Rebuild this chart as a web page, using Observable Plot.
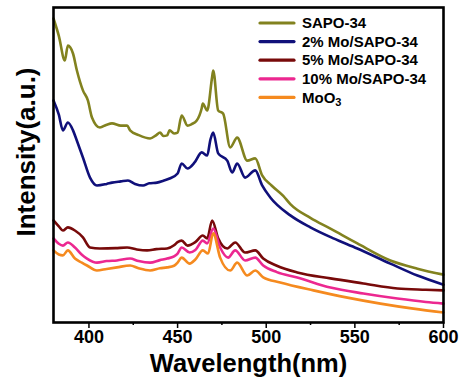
<!DOCTYPE html>
<html>
<head>
<meta charset="utf-8">
<script src="https://cdn.jsdelivr.net/npm/d3@7"></script>
<script src="https://cdn.jsdelivr.net/npm/@observablehq/plot@0.6"></script>
<style>
  html, body { margin: 0; padding: 0; background: #fff; }
  #chart { width: 461px; height: 380px; }
  svg { font-family: "Liberation Sans", Arial, sans-serif; }
</style>
</head>
<body>
<div id="chart"></div>
<script>
// ---- data (wavelength in nm, intensity in arbitrary units) ----
const seriesNames = ["SAPO-34", "2% Mo/SAPO-34", "5% Mo/SAPO-34", "10% Mo/SAPO-34", "MoO3"];
const seriesColors = ["#82821f", "#10107a", "#780a0a", "#ec2890", "#f58a1f"];

const wlSapo = [380,383,386.4,388.1,391,393.2,396.6,399.4,401.7,406.2,410,413,418,421.5,423.2,428,434.5,438,440.1,442,444.1,445.5,448,450,452.3,455.6,458,460.8,463.6,464.2,466.7,469.5,470.1,472.9,475.7,479.7,483.6,489.3,493.8,497.7,503,509.6,513.6,524.9,536.2,551.4,570,585.3,600];
const intSapo = [96.5,91,83.2,87.9,85.4,80.0,73.7,70.5,65.1,61.9,62.8,63.2,62.5,62.5,61.0,59.5,58.4,59.5,60.3,59.2,59.4,61.0,60.0,60.3,65.7,62.5,63.0,64.1,68.0,69.5,67.3,78,80.0,67.3,66.3,55.6,58.7,51.4,52.1,46.7,43.5,40.2,37.6,33.2,29.8,25.1,19.7,17.1,15.2];

const wl2Mo = [380,383,385.3,388.1,391,393,396.6,400.6,404.5,410,413,418,422,426,430.5,434,438.4,442,445.5,450,452.3,455.6,459.6,463.6,466.7,468.5,470.1,472.9,478,480.8,483.6,488.1,493.8,497.7,502.3,513.6,524.9,537.9,551.4,570,585.3,600];
const int2Mo = [70.5,66,61.0,63.5,61.0,58,52.4,46.0,43.5,44.0,44.4,44.8,45.1,44.0,43.5,44.2,44.4,45.0,45.7,47.3,50.5,48.9,50.8,54.0,53.0,58,60.3,53.7,51.4,47.6,50.5,46.0,48.3,43.5,39.7,34.0,30.2,26.7,23.5,18.7,14.9,12.0];

const wl5Mo = [380,383,385.3,388.1,392.1,396.6,400.6,406.2,415,421.5,427,432.8,438,444.1,448,450,452.3,455.6,460,464.2,466.7,469.5,472.9,478,482.5,488.1,493.8,498.3,506,517.5,536.2,554.8,574,590,600];
const int5Mo = [32.4,30.5,29.2,30.2,29.2,27.0,23.8,23.5,23.6,23.8,23.2,22.9,23.3,23.5,24.5,25.5,26.0,24.4,25.5,27.6,26.7,32.4,26.7,23.5,25.4,22.2,22.9,20.3,18.0,15.9,14.0,12.4,10.8,10.4,10.2];

const wl10Mo = [380,383,385.3,388.1,392.1,396,398.9,404.5,410,415.8,423.2,428,434.5,440,444.1,448,450,452.3,456.8,460,464.2,466.7,470.1,474,478.5,482.5,488.1,493.8,498.3,506,517.5,536.2,554.8,574,590,600];
const int10Mo = [26.7,25.0,24.4,25.4,23.8,21.5,20.3,19.0,19.5,19.7,20.3,19.5,19.0,19.8,20.3,21.0,21.9,23.8,22.2,23.0,26.0,25.1,29.8,23.8,20.6,22.9,19.7,20.6,18.1,16.0,14.3,11.1,9.2,7.6,6.5,6.0];

const wlMoO3 = [380,383,385.3,388.1,392.1,396,398.9,404.5,410,415.8,423.2,428,434.5,440,444.1,448,450,452.3,456.8,460,464.2,467.2,470.1,474,479.7,483.6,489.3,493.8,498.3,507.9,526.6,545.8,564.4,583,600];
const intMoO3 = [22.9,21.6,21.3,22.9,20.3,19.0,18.1,16.5,17.0,17.5,18.1,17.2,16.5,17.2,17.5,18.0,19.0,20.6,18.7,20.0,22.9,21.9,28.3,20.6,16.5,19.0,14.9,16.5,14.3,12.7,10.2,7.9,6.0,4.4,3.2];

const xMajorTicks = [400, 450, 500, 550, 600];
const xMinorTicks = [425, 475, 525, 575];
const xLabel = "Wavelength(nm)";
const yLabel = "Intensity(a.u.)";

// ---- build table ----
const wls = [wlSapo, wl2Mo, wl5Mo, wl10Mo, wlMoO3];
const ints = [intSapo, int2Mo, int5Mo, int10Mo, intMoO3];
const data = [];
seriesNames.forEach((name, i) => {
  wls[i].forEach((w, j) => data.push({series: name, wl: w, v: ints[i][j]}));
});

const plot = Plot.plot({
  width: 461,
  height: 380,
  marginLeft: 53,
  marginRight: 18,
  marginTop: 7,
  marginBottom: 58,
  style: {fontFamily: '"Liberation Sans", Arial, sans-serif', background: "#fff"},
  x: {domain: [380, 600]},
  y: {domain: [0, 100]},
  color: {domain: seriesNames, range: seriesColors},
  marks: [
    Plot.line(data, {x: "wl", y: "v", z: "series", stroke: "series", strokeWidth: 2.6, strokeLinejoin: "round", curve: "monotone-x"}),
    Plot.frame({stroke: "#000", strokeWidth: 2.6}),
    Plot.axisX({ticks: xMajorTicks, tickSize: 6, tickPadding: 2, tickFormat: d => String(d), fontSize: 18, fontWeight: "bold", label: null, strokeWidth: 1.5, color: "#000"}),
    Plot.axisX({ticks: xMinorTicks, tickSize: 3, tickFormat: () => "", label: null, strokeWidth: 1.5}),
    Plot.axisY({ticks: [], label: null}),
    Plot.text([xLabel], {frameAnchor: "bottom", lineAnchor: "middle", textAnchor: "middle", dy: 41, fontSize: 25.5, fontWeight: "bold", fill: "#000"}),
    Plot.text([yLabel], {frameAnchor: "left", lineAnchor: "middle", textAnchor: "middle", rotate: -90, dx: -27, dy: -13, fontSize: 26, fontWeight: "bold", fill: "#000"})
  ]
});

document.getElementById("chart").appendChild(plot);

// ---- legend inside the frame (top right) ----
const svg = d3.select(plot);
const leg = svg.append("g").attr("transform", "translate(260,23)").attr("text-anchor", "start");
seriesNames.forEach((name, i) => {
  const g = leg.append("g").attr("transform", `translate(0,${i * 18.6})`);
  g.append("line").attr("x1", 0).attr("x2", 34).attr("y1", 0).attr("y2", 0)
    .attr("stroke", seriesColors[i]).attr("stroke-width", 3.2).attr("stroke-linecap", "round");
  const t = g.append("text").attr("x", 42).attr("y", 0).attr("dy", "0.35em")
    .attr("text-anchor", "start")
    .attr("font-size", 15).attr("font-weight", "bold").attr("fill", "#000");
  if (name === "MoO3") {
    t.append("tspan").text("MoO");
    t.append("tspan").attr("font-size", 11).attr("dy", "0.3em").text("3");
  } else {
    t.text(name);
  }
});
</script>
</body>
</html>
